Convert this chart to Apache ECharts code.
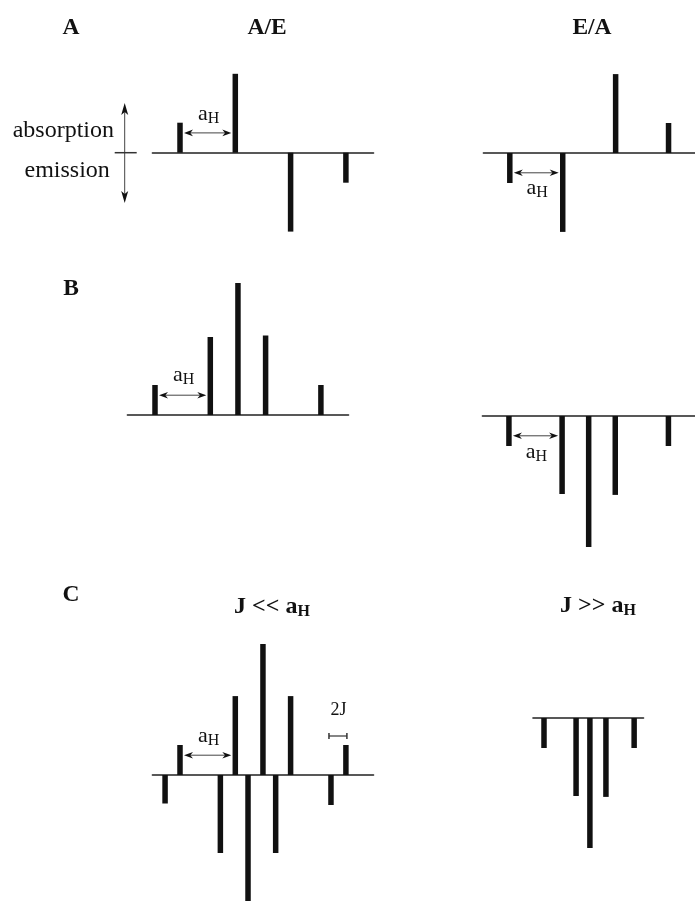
<!DOCTYPE html>
<html><head><meta charset="utf-8">
<script src="https://cdn.jsdelivr.net/npm/echarts@6/dist/echarts.min.js"></script>
<style>html,body{margin:0;padding:0;background:#fff}#c{width:695px;height:901px}</style>
</head><body><div id="c"></div>
<script>
// ---- stick spectra: positions (field units, a_H = 1) and signed intensities (absorption > 0, emission < 0)
const aePos = [0, 1, 2, 3];
const aeInt = [1, 2.63, -2.63, -1];
const eaPos = [0, 1, 2, 3];
const eaInt = [-1, -2.63, 2.63, 1];
const bAbsPos = [0, 1, 1.5, 2, 3];
const bAbsInt = [1, 2.6, 4.4, 2.65, 1];
const bEmPos = [0, 1, 1.5, 2, 3];
const bEmInt = [-1, -2.6, -4.37, -2.63, -1];
const cWeakAbsPos = [0, 1, 1.5, 2, 3];
const cWeakAbsInt = [1, 2.63, 4.37, 2.63, 1];
const cWeakEmPos = [-0.27, 0.73, 1.23, 1.73, 2.73];
const cWeakEmInt = [-0.95, -2.6, -4.37, -2.6, -1];
const cStrongPos = [0, 0.58, 0.83, 1.12, 1.63];
const cStrongInt = [-1, -2.6, -4.33, -2.63, -1];

// ---- annotations (in data units)
const aHArrowGrid = [0, 1, 2, 3, 4];
const aHArrowY = [0.66, -0.66, 0.66, -0.66, 0.66];
const aHLabelY = [1.23, -1.23, 1.27, -1.27, 1.23];
const twoJFrom = 2.73, twoJTo = 3.0, twoJY = 1.3, twoJLabelY = 2.15;

// ---- layout
const XU = 55.3, YU = 30;
const layout = [
  {x0: 180, y0: 152.7, xMin: -0.5, xMax: 3.5, yMin: -4.5, yMax: 4.5},
  {x0: 511, y0: 153,   xMin: -0.5, xMax: 3.5, yMin: -4.5, yMax: 4.5},
  {x0: 155, y0: 415,   xMin: -0.5, xMax: 3.5, yMin: -4.5, yMax: 4.5},
  {x0: 510, y0: 416,   xMin: -0.5, xMax: 3.5, yMin: -4.5, yMax: 4.5},
  {x0: 180, y0: 775,   xMin: -0.5, xMax: 3.5, yMin: -4.2, yMax: 4.8},
  {x0: 544, y0: 718,   xMin: -0.2, xMax: 1.8, yMin: -4.5, yMax: 4.5}
];
const SERIF = '"Liberation Serif","DejaVu Serif",serif';
const INK = '#111';

const grids = [], xAxes = [], yAxes = [];
layout.forEach((L, i) => {
  grids.push({left: L.x0 + L.xMin * XU, width: (L.xMax - L.xMin) * XU, top: L.y0 - L.yMax * YU, height: (L.yMax - L.yMin) * YU, containLabel: false});
  xAxes.push({type: 'value', gridIndex: i, min: L.xMin, max: L.xMax,
    axisLine: {show: true, onZero: true, lineStyle: {color: '#222', width: 1.5}},
    axisTick: {show: false}, axisLabel: {show: false}, splitLine: {show: false}});
  yAxes.push({type: 'value', gridIndex: i, min: L.yMin, max: L.yMax, show: false,
    axisLine: {show: false}, axisTick: {show: false}, axisLabel: {show: false}, splitLine: {show: false}});
});

function stickItem(params, api) {
  const x = api.value(0), v = api.value(1);
  const p0 = api.coord([x, 0]), p1 = api.coord([x, v]);
  const w = 5.5;
  return {type: 'rect', shape: {x: p0[0] - w / 2, y: Math.min(p0[1], p1[1]), width: w, height: Math.abs(p1[1] - p0[1])},
    style: {fill: INK}};
}
function zip(a, b) { return a.map((x, i) => [x, b[i]]); }
const stickSets = [
  [0, aePos, aeInt], [1, eaPos, eaInt], [2, bAbsPos, bAbsInt], [3, bEmPos, bEmInt],
  [4, cWeakAbsPos, cWeakAbsInt], [4, cWeakEmPos, cWeakEmInt], [5, cStrongPos, cStrongInt]
];
const series = stickSets.map(([g, p, v]) => ({
  type: 'custom', xAxisIndex: g, yAxisIndex: g, clip: false, silent: true,
  encode: {x: 0, y: 1}, data: zip(p, v), renderItem: stickItem
}));

const chart = echarts.init(document.getElementById('c'));
chart.setOption({animation: false, backgroundColor: '#fff', grid: grids, xAxis: xAxes, yAxis: yAxes, series: series});

// ---- annotations positioned through the axes
function px(g, x, y) { return chart.convertToPixel({gridIndex: g}, [x, y]); }
const mctx = document.createElement('canvas').getContext('2d');
function tw(t, font) { mctx.font = font; return mctx.measureText(t).width; }

function subText(main, sub, cx, cy, size, subSize, bold, subDy) {
  const wt = bold ? 'bold ' : '';
  const f1 = wt + size + 'px ' + SERIF, f2 = wt + subSize + 'px ' + SERIF;
  const w1 = tw(main, f1), w2 = tw(sub, f2);
  const left = cx - (w1 + w2) / 2;
  return [
    {type: 'text', x: left, y: cy, style: {text: main, font: f1, fill: INK, align: 'left', verticalAlign: 'middle'}},
    {type: 'text', x: left + w1, y: cy + subDy, style: {text: sub, font: f2, fill: INK, align: 'left', verticalAlign: 'middle'}}
  ];
}
function text(t, x, y, size, bold) {
  return {type: 'text', x: x, y: y, style: {text: t, font: (bold ? 'bold ' : '') + size + 'px ' + SERIF, fill: INK, align: 'center', verticalAlign: 'middle'}};
}
function headH(x1, y, dir) {
  const L = 9, H = 3.3;
  return {type: 'polygon', shape: {points: [[x1, y], [x1 + dir * L, y - H], [x1 + dir * L * 0.7, y], [x1 + dir * L, y + H]]}, style: {fill: INK}};
}
function hArrow(g, xa, xb, y) {
  const p = px(g, xa, y), q = px(g, xb, y);
  const x1 = p[0] + 4, x2 = q[0] - 4, yy = p[1];
  return [
    {type: 'line', shape: {x1: x1 + 6, y1: yy, x2: x2 - 6, y2: yy}, style: {stroke: '#444', lineWidth: 1}},
    headH(x1, yy, 1), headH(x2, yy, -1)
  ];
}

const G = [];
// a_H arrows and labels
aHArrowGrid.forEach((g, i) => {
  G.push(...hArrow(g, 0, 1, aHArrowY[i]));
  const c = px(g, 0.5, aHLabelY[i]);
  G.push(...subText('a', 'H', c[0] + 1, c[1] - 2, 22, 16, false, 5));
});
// 2J marker
{
  const a = px(4, twoJFrom, twoJY), b = px(4, twoJTo, twoJY);
  const x1 = a[0] - 2, x2 = b[0] + 1, y = a[1];
  G.push({type: 'line', shape: {x1: x1, y1: y, x2: x2, y2: y}, style: {stroke: '#333', lineWidth: 1.2}});
  G.push({type: 'line', shape: {x1: x1, y1: y - 3, x2: x1, y2: y + 3}, style: {stroke: '#333', lineWidth: 1.5}});
  G.push({type: 'line', shape: {x1: x2, y1: y - 3, x2: x2, y2: y + 3}, style: {stroke: '#333', lineWidth: 1.5}});
  const c = px(4, (twoJFrom + twoJTo) / 2, twoJLabelY);
  G.push(text('2J', c[0], c[1], 18, false));
}
// absorption / emission indicator (panel A/E frame)
{
  const top = px(0, -1.0, 1.66), bot = px(0, -1.0, -1.68), mid = px(0, -1.0, 0);
  const x = top[0];
  G.push({type: 'line', shape: {x1: x, y1: top[1] + 6, x2: x, y2: bot[1] - 6}, style: {stroke: '#444', lineWidth: 1}});
  G.push({type: 'polygon', shape: {points: [[x, top[1]], [x - 3.5, top[1] + 12], [x, top[1] + 9], [x + 3.5, top[1] + 12]]}, style: {fill: INK}});
  G.push({type: 'polygon', shape: {points: [[x, bot[1]], [x - 3.5, bot[1] - 12], [x, bot[1] - 9], [x + 3.5, bot[1] - 12]]}, style: {fill: INK}});
  G.push({type: 'line', shape: {x1: x - 10, y1: mid[1], x2: x + 12, y2: mid[1]}, style: {stroke: '#333', lineWidth: 1.5}});
  const ab = px(0, -2.11, 0.72), em = px(0, -2.04, -0.6);
  G.push(text('absorption', ab[0], ab[1], 24, false));
  G.push(text('emission', em[0], em[1], 24, false));
}
// headings
G.push(text('A', 71, 28, 23.5, true));
G.push(text('A/E', 267, 28, 23.5, true));
G.push(text('E/A', 592, 28, 23.5, true));
G.push(text('B', 71, 289, 23.5, true));
G.push(text('C', 71, 595, 23.5, true));
G.push(...subText('J << a', 'H', 272, 607, 24, 16, true, 5));
G.push(...subText('J >> a', 'H', 598, 606, 24, 16, true, 5));

chart.setOption({graphic: G});
</script>
</body></html>
